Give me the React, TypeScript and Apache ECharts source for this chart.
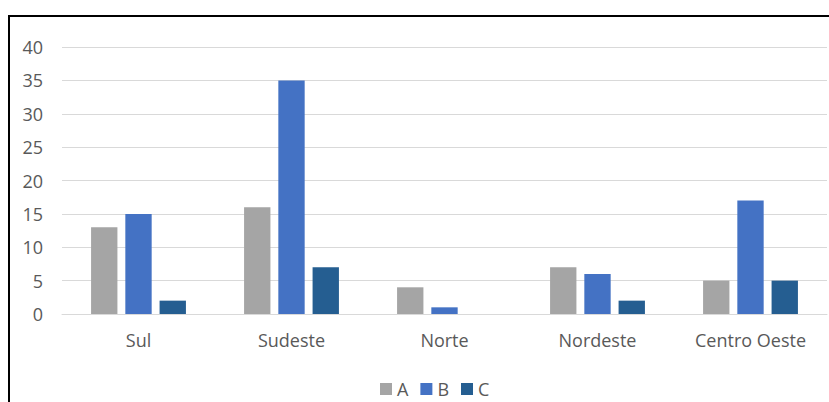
import React, { useEffect, useRef } from "react";
import * as echarts from "echarts";

const categories = ["Sul", "Sudeste", "Norte", "Nordeste", "Centro Oeste"];
const seriesA = [13, 16, 4, 7, 5];
const seriesB = [15, 35, 1, 6, 17];
const seriesC = [2, 7, 0, 2, 5];
const seriesNames = ["A", "B", "C"];
const colors = ["#A5A5A5", "#4472C4", "#255E91"];

export default function App() {
  const ref = useRef<HTMLDivElement>(null);
  useEffect(() => {
    if (!ref.current) return;
    const chart = echarts.init(ref.current, undefined, { renderer: "svg" });
    const font = "'Open Sans', 'Noto Sans', sans-serif";
    const data = [seriesA, seriesB, seriesC];
    chart.setOption({
      animation: false,
      color: colors,
      textStyle: { fontFamily: font },
      grid: { left: 52, right: 2, top: 30, bottom: 88 },
      legend: {
        left: 365,
        top: 358,
        itemWidth: 12,
        itemHeight: 12,
        itemGap: 12,
        icon: "rect",
        textStyle: { color: "#595959", fontSize: 18, fontFamily: font },
        data: seriesNames,
      },
      xAxis: {
        type: "category",
        data: categories,
        axisLine: { lineStyle: { color: "#d9d9d9", width: 1 } },
        axisTick: { show: false },
        axisLabel: { color: "#595959", fontSize: 18, fontFamily: font, margin: 17 },
      },
      yAxis: {
        type: "value",
        min: 0,
        max: 40,
        interval: 5,
        axisLine: { show: false },
        axisTick: { show: false },
        splitLine: { lineStyle: { color: "#d9d9d9", width: 1 } },
        axisLabel: { color: "#595959", fontSize: 18, fontFamily: font, margin: 19 },
      },
      series: data.map((d, i) => ({
        name: seriesNames[i],
        type: "bar",
        data: d,
        barGap: "30%",
        barCategoryGap: "38%",
        itemStyle: { color: colors[i] },
      })),
    });
    return () => chart.dispose();
  }, []);
  return (
    <div
      style={{
        position: "absolute",
        left: 8,
        top: 15,
        width: 821,
        height: 387,
        borderTop: "2px solid #000",
        borderLeft: "2px solid #000",
        boxSizing: "border-box",
        background: "#fff",
      }}
    >
      <div ref={ref} style={{ width: 819, height: 385 }} />
    </div>
  );
}
